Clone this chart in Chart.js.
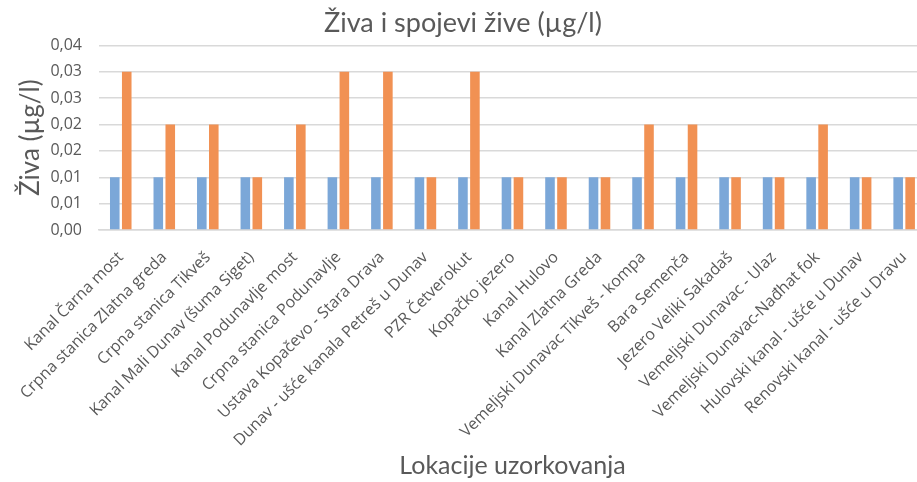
<!DOCTYPE html>
<html>
<head>
<meta charset="utf-8">
<script src="https://cdn.jsdelivr.net/npm/chart.js@4"></script>
<style>
  html, body { margin: 0; padding: 0; background: #fff; overflow: hidden; }
  #wrap { width: 917px; height: 482px; overflow: hidden; }
  #wrap div { width: 936px; height: 482px; position: relative; }
</style>
</head>
<body>
<div id="wrap"><div><canvas id="chart"></canvas></div></div>
<script>
const locations = [
  'Kanal Čarna most',
  'Crpna stanica Zlatna greda',
  'Crpna stanica Tikveš',
  'Kanal Mali Dunav (šuma Siget)',
  'Kanal Podunavlje most',
  'Crpna stanica Podunavlje',
  'Ustava Kopačevo - Stara Drava',
  'Dunav - ušće kanala Petreš u Dunav',
  'PZR Četverokut',
  'Kopačko jezero',
  'Kanal Hulovo',
  'Kanal Zlatna Greda',
  'Vemeljski Dunavac Tikveš - kompa',
  'Bara Semenča',
  'Jezero Veliki Sakadaš',
  'Vemeljski Dunavac - Ulaz',
  'Vemeljski Dunavac-Nađhat fok',
  'Hulovski kanal - ušće u Dunav',
  'Renovski kanal - ušće u Dravu'
];

const blueValues = [0.01, 0.01, 0.01, 0.01, 0.01, 0.01, 0.01, 0.01, 0.01, 0.01,
                    0.01, 0.01, 0.01, 0.01, 0.01, 0.01, 0.01, 0.01, 0.01];
const orangeValues = [0.03, 0.02, 0.02, 0.01, 0.02, 0.03, 0.03, 0.01, 0.03, 0.01,
                      0.01, 0.01, 0.02, 0.02, 0.01, 0.01, 0.02, 0.01, 0.01];

// Excel rounds the 0.005 steps to two decimals, hence the repeats
const yTickLabels = ['0,00', '0,01', '0,01', '0,02', '0,02', '0,03', '0,03', '0,04'];

const grey = '#595959';
const gridColor = '#d9d9d9';
const tickFont = "'Open Sans', sans-serif";
const titleFont = "Lato, sans-serif";

const ctx = document.getElementById('chart').getContext('2d');
new Chart(ctx, {
  type: 'bar',
  data: {
    labels: locations,
    datasets: [
      {
        label: 'Serija 1',
        data: blueValues,
        backgroundColor: '#7ba7d8',
        barPercentage: 0.8,
        categoryPercentage: 0.55
      },
      {
        label: 'Serija 2',
        data: orangeValues,
        backgroundColor: '#f19153',
        barPercentage: 0.8,
        categoryPercentage: 0.55
      }
    ]
  },
  options: {
    responsive: true,
    maintainAspectRatio: false,
    animation: false,
    layout: { padding: { left: 0, right: 10, top: 0, bottom: 0 } },
    plugins: {
      legend: { display: false },
      tooltip: { enabled: false },
      title: {
        display: true,
        text: 'Živa i spojevi žive (µg/l)',
        color: grey,
        font: { family: titleFont, size: 27, weight: 'normal', lineHeight: 1.2 },
        padding: { top: 7, bottom: 6 }
      }
    },
    scales: {
      x: {
        grid: { display: false, drawTicks: false },
        border: { display: true, color: gridColor, width: 1.5 },
        ticks: {
          color: grey,
          font: { family: tickFont, size: 16 },
          minRotation: 45,
          maxRotation: 45,
          autoSkip: false,
          padding: 18
        },
        title: {
          display: true,
          text: 'Lokacije uzorkovanja',
          color: grey,
          font: { family: titleFont, size: 25, weight: 'normal' },
          padding: { top: 0, bottom: 1 }
        },
        afterFit: scale => { scale.height = 252; }
      },
      y: {
        min: 0,
        max: 0.035,
        grid: { color: gridColor, lineWidth: 1.5, drawTicks: false },
        border: { display: false },
        ticks: {
          stepSize: 0.005,
          color: grey,
          font: { family: tickFont, size: 16 },
          padding: 17,
          callback: (value, index) => yTickLabels[index]
        },
        title: {
          display: true,
          text: 'Živa (µg/l)',
          color: grey,
          font: { family: titleFont, size: 26, weight: 'normal' },
          padding: { top: 15, bottom: 0 }
        },
        afterFit: scale => { scale.width = 99; }
      }
    }
  }
});
</script>
</body>
</html>
